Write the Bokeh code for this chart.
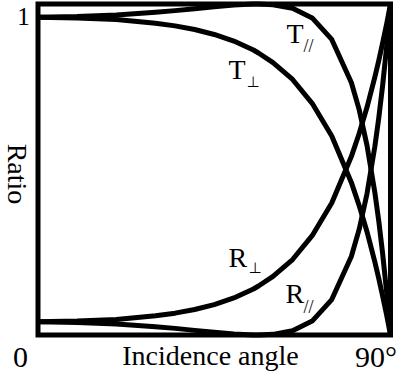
from bokeh.plotting import figure
from bokeh.models import Label, Range1d
from bokeh.embed import file_html
from bokeh.resources import INLINE
import math

# Incidence angle (degrees)
angles = [0, 10, 20, 30, 35, 40, 45, 50, 55, 56.3, 60, 65, 70, 75, 80, 82, 84, 86, 87, 88, 89, 90]
# Reflectance / transmittance
R_perp = [0.040, 0.042, 0.047, 0.058, 0.066, 0.077, 0.092, 0.112, 0.139, 0.148, 0.177, 0.228, 0.300, 0.399, 0.539, 0.609, 0.688, 0.779, 0.829, 0.883, 0.939, 1.0]
R_par = [0.040, 0.038, 0.033, 0.025, 0.020, 0.014, 0.008, 0.003, 0.0002, 0.0, 0.002, 0.013, 0.042, 0.107, 0.237, 0.319, 0.427, 0.569, 0.655, 0.755, 0.869, 1.0]
T_perp = [0.960, 0.958, 0.953, 0.942, 0.934, 0.923, 0.908, 0.888, 0.861, 0.852, 0.823, 0.772, 0.700, 0.601, 0.461, 0.391, 0.312, 0.221, 0.171, 0.117, 0.061, 0.0]
T_par = [0.960, 0.962, 0.967, 0.975, 0.980, 0.986, 0.992, 0.997, 0.9998, 1.0, 0.998, 0.987, 0.958, 0.893, 0.763, 0.681, 0.573, 0.431, 0.345, 0.245, 0.131, 0.0]

# plot box limits (angle 0..90, ratio 0..1)
box_x = [0, 90]
box_y = [0, 1]

x_label = "Incidence angle"
y_label = "Ratio"
x_min_label = "0"
x_max_label = "90°"
y_max_label = "1"

FONT = "Liberation Serif"

p = figure(width=400, height=377, output_backend="svg", toolbar_location=None,
           x_range=Range1d(-9.574, 92.553), y_range=Range1d(-0.1284, 1.0106),
           x_axis_location=None, y_axis_location=None,
           min_border=0)
p.grid.visible = False
p.outline_line_color = None
p.background_fill_color = "white"
p.border_fill_color = "white"

p.quad(left=[box_x[0]], right=[box_x[1]], bottom=[box_y[0]], top=[box_y[1]],
       fill_color=None, line_color="black", line_width=5, line_join="miter")

for ys in (R_perp, R_par, T_perp, T_par):
    p.line(angles, ys, line_color="black", line_width=5, line_join="round")

def lab(x, y, t, size, align="left", baseline="alphabetic", angle=0, font=FONT):
    p.add_layout(Label(x=x, y=y, text=t, text_font=font, text_font_size=f"{size}px",
                       text_align=align, text_baseline=baseline, angle=angle,
                       text_color="black"))

lab(-3.7, 0.962, y_max_label, 25, align="center")
lab(-4.47, -0.0686, x_min_label, 30, align="center")
lab(86.30, -0.0656, x_max_label, 30, align="center")
lab(44.04, -0.0616, x_label, 28, align="center")
lab(-5.36, 0.4864, y_label, 28, align="center", baseline="middle", angle=-math.pi / 2)

# curve labels
lab(63.45, 0.9112, "T", 28)
lab(67.79, 0.8746, "//", 18)
lab(48.64, 0.8024, "T", 28)
lab(53.23, 0.7640, "⊥", 15, font="DejaVu Sans")
lab(48.64, 0.2344, "R", 28)
lab(53.74, 0.2021, "⊥", 15, font="DejaVu Sans")
lab(63.19, 0.1257, "R", 28)
lab(67.79, 0.0861, "//", 18)

open("out.html", "w").write(file_html(p, INLINE))
